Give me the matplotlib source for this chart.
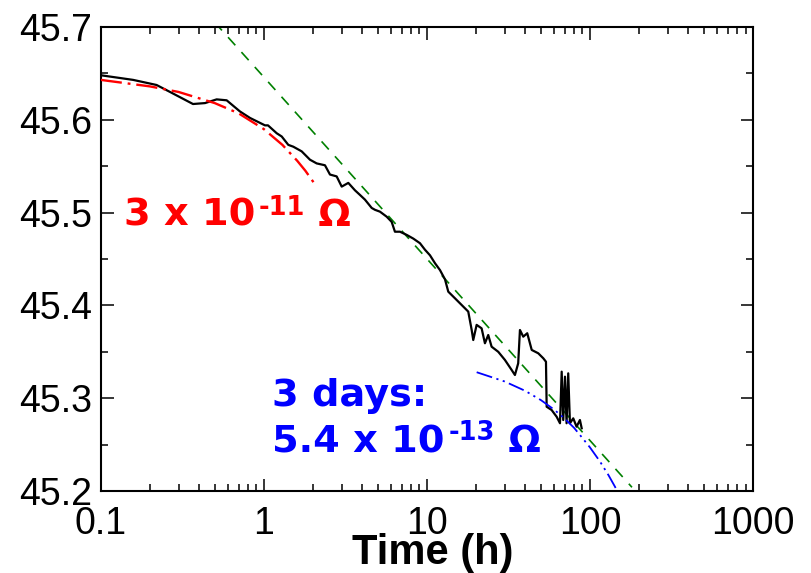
import matplotlib
matplotlib.use('Agg')
import matplotlib.pyplot as plt
from matplotlib.ticker import LogLocator, MultipleLocator, NullFormatter

time_h = [0.100, 0.158, 0.220, 0.266, 0.368, 0.436, 0.514, 0.592, 0.714, 0.823,
          1.017, 1.061, 1.200, 1.288, 1.413, 1.517, 1.707, 1.919, 2.110, 2.372,
          2.546, 2.798, 3.004, 3.298, 3.624, 3.890, 4.170, 4.588, 4.806, 5.157,
          5.669, 6.083, 6.371, 6.839, 7.516, 8.253, 9.072, 9.733, 10.45, 11.22,
          12.04, 12.92, 13.53, 14.86, 16.72, 17.94, 18.83, 19.25, 20.19, 21.66,
          22.70, 23.79, 24.95, 27.40, 30.11, 33.11, 34.67, 36.31, 37.22, 39.00,
          41.26, 43.95, 48.20, 51.76, 53.75, 54.27, 58.20, 62.50, 65.50, 67.10,
          68.60, 70.30, 71.90, 73.60, 75.40, 79.00, 82.80, 86.80, 89.00]
resistance = [45.648, 45.643, 45.6375, 45.630, 45.617, 45.618, 45.622, 45.621, 45.609, 45.602,
              45.594, 45.594, 45.5855, 45.582, 45.573, 45.571, 45.566, 45.557, 45.553, 45.551,
              45.541, 45.539, 45.528, 45.532, 45.524, 45.519, 45.514, 45.505, 45.503, 45.501,
              45.4956, 45.490, 45.4794, 45.4794, 45.476, 45.472, 45.467, 45.460, 45.454, 45.4454,
              45.438, 45.428, 45.4148, 45.4077, 45.3987, 45.3933, 45.3735, 45.3627, 45.379, 45.3753,
              45.3592, 45.3681, 45.3555, 45.350, 45.3412, 45.3304, 45.325, 45.3376, 45.3735, 45.3663,
              45.370, 45.352, 45.3484, 45.343, 45.3393, 45.2908, 45.2873, 45.280, 45.273, 45.3286,
              45.2765, 45.3232, 45.273, 45.3268, 45.273, 45.2783, 45.2693, 45.2765, 45.2676]

# ---- short-term drift fit (red) ----
red_t = [0.10, 0.20, 0.30, 0.50, 0.70, 1.00, 1.30, 1.60, 1.80, 2.05]
red_y = [45.643, 45.636, 45.630, 45.618, 45.607, 45.590, 45.573, 45.556, 45.545, 45.531]

# ---- logarithmic trend (green) ----
green_t = [0.50, 181.0]
green_y = [45.705, 45.204]

# ---- long-term drift fit (blue) ----
blue_t = [20.2, 30.0, 40.0, 50.0, 60.0, 70.0, 80.0, 90.0, 100.0, 115.0, 130.0, 142.0, 148.0]
blue_y = [45.328, 45.318, 45.308, 45.298, 45.288, 45.278, 45.268, 45.257, 45.247, 45.232, 45.217, 45.205, 45.199]

xticks = [0.1, 1, 10, 100, 1000]
xtick_labels = ['0.1', '1', '10', '100', '1000']
yticks = [45.2, 45.3, 45.4, 45.5, 45.6, 45.7]
ytick_labels = ['45.2', '45.3', '45.4', '45.5', '45.6', '45.7']

plt.rcParams['font.family'] = ['Liberation Sans', 'DejaVu Sans']

fig = plt.figure(figsize=(8.11, 5.73), dpi=100)
ax = fig.add_axes([0.1242, 0.1431, 0.8043, 0.8098])
ax.set_xscale('log')

ax.plot(time_h, resistance, color='black', lw=1.6, zorder=3)
ax.plot(red_t, red_y, color='#ff0000', lw=1.7, dashes=(9, 2.5, 1.2, 2.5), zorder=4)
ax.plot(green_t, green_y, color='#008000', lw=1.2, dashes=(6.5, 5.5), zorder=2)
ax.plot(blue_t, blue_y, color='#0000ff', lw=1.3, dashes=(9, 2.5, 1.2, 2.5, 1.2, 2.5), zorder=4)

ax.set_xlim(0.1, 1000)
ax.set_ylim(45.2, 45.7)
ax.set_xticks(xticks, labels=xtick_labels)
ax.set_yticks(yticks, labels=ytick_labels)
ax.xaxis.set_minor_locator(LogLocator(base=10, subs=range(2, 10)))
ax.xaxis.set_minor_formatter(NullFormatter())
ax.yaxis.set_minor_locator(MultipleLocator(0.05))
ax.tick_params(which='both', direction='in', top=True, right=True, width=1.1, colors='black')
ax.tick_params(which='major', length=9, labelsize=27)
ax.tick_params(axis='x', which='major', pad=11)
ax.tick_params(axis='y', which='major', pad=6)
ax.tick_params(which='minor', length=5)
for s in ax.spines.values():
    s.set_linewidth(1.5)

ax.set_xlabel('Time (h)', fontsize=30, fontweight='bold')
ax.xaxis.label.set_verticalalignment('baseline')
ax.xaxis.set_label_coords(0.5094, -0.157)

# ---- annotations ----
def sci_label(x, y_base, y_sup, main, sup, color):
    t1 = ax.text(x, y_base, main, color=color, fontsize=27.5, fontweight='bold',
                 family='DejaVu Sans', va='baseline', ha='left', zorder=5)
    t2 = ax.annotate(sup, xy=(1, y_sup), xycoords=(t1, 'data'), xytext=(3, 0),
                     textcoords='offset points', color=color, fontsize=18.5,
                     fontweight='bold', family='DejaVu Sans', va='baseline', ha='left', zorder=5)
    ax.annotate(' \u03a9', xy=(1, y_base), xycoords=(t2, 'data'), color=color,
                fontsize=27.5, fontweight='bold', family='DejaVu Sans',
                va='baseline', ha='left', zorder=5)

sci_label(0.138, 45.4856, 45.4974, '3 x 10', '-11', '#ff0000')
ax.text(1.13, 45.2916, '3 days:', color='#0000ff', fontsize=27.5, fontweight='bold',
        family='DejaVu Sans', va='baseline', ha='left', zorder=5)
sci_label(1.13, 45.2420, 45.2550, '5.4 x 10', '-13', '#0000ff')

fig.savefig('out.png', dpi=100)
